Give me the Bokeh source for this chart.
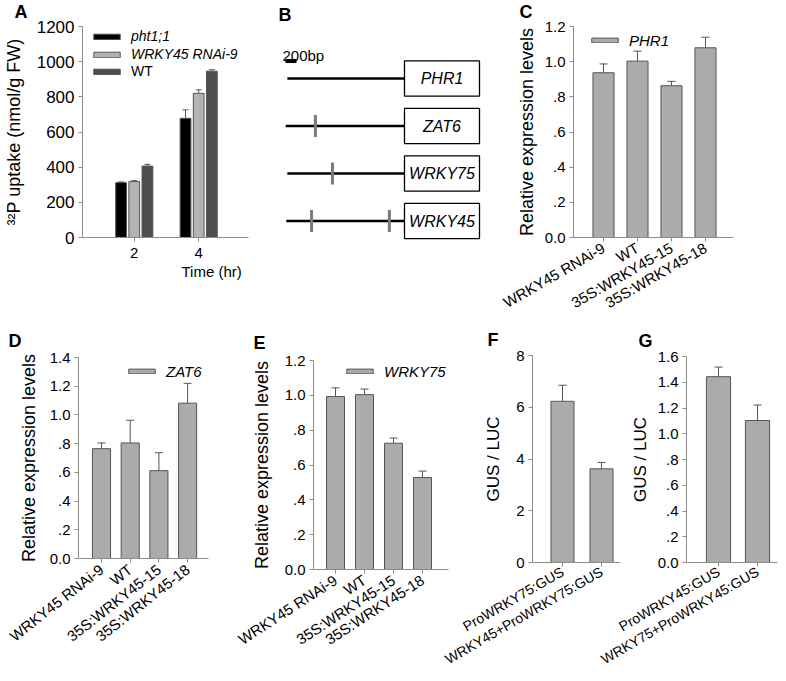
import math
from bokeh.plotting import figure
from bokeh.models import (Range1d, FixedTicker, Whisker, TeeHead, ColumnDataSource,
                          Label, Legend, LegendItem, Title)
from bokeh.layouts import row, column
from bokeh.embed import file_html
from bokeh.resources import INLINE
from bokeh.core.properties import value

FONT = "Liberation Sans"
AXIS_COLOR = "#8c8c8c"
BAR_FILL = "#ababab"
BAR_LINE = "#555555"
ERR_COLOR = "#555555"

# ---------------- data ----------------
# A: 32P uptake
a_times = ["2", "4"]
a_pht = [312, 678]
a_pht_err = [4, 48]
a_rnai = [318, 820]
a_rnai_err = [5, 20]
a_wt = [406, 946]
a_wt_err = [10, 8]
a_yticks = [0, 200, 400, 600, 800, 1000, 1200]
a_yticklabels = ["0", "200", "400", "600", "800", "1000", "1200"]

# B: promoter schematic (bp)
b_genes = ["PHR1", "ZAT6", "WRKY75", "WRKY45"]
b_promoter_bp = [2130, 2160, 2130, 2150]
b_motif_gene = [1, 2, 3, 3]
b_motif_bp = [1620, 1310, 1690, 275]
b_scale_bp = 200

# C/D/E: relative expression
genotypes = ["WRKY45 RNAi-9", "WT", "35S:WRKY45-15", "35S:WRKY45-18"]
c_vals = [0.937, 1.003, 0.863, 1.079]
c_err = [0.050, 0.057, 0.025, 0.060]
d_vals = [0.765, 0.805, 0.612, 1.082]
d_err = [0.040, 0.158, 0.125, 0.138]
e_vals = [0.993, 1.004, 0.725, 0.528]
e_err = [0.050, 0.032, 0.030, 0.037]

# F/G: GUS / LUC
f_constructs = ["ProWRKY75:GUS", "WRKY45+ProWRKY75:GUS"]
f_vals = [6.23, 3.62]
f_err = [0.62, 0.25]
g_constructs = ["ProWRKY45:GUS", "WRKY75+ProWRKY45:GUS"]
g_vals = [1.443, 1.103]
g_err = [0.075, 0.120]

rel_yticks = [0, 0.2, 0.4, 0.6, 0.8, 1.0, 1.2, 1.4, 1.6]
rel_yticklabels = ["0.0", ".2", ".4", ".6", ".8", "1.0", "1.2", "1.4", "1.6"]
f_yticks = [0, 2, 4, 6, 8]
f_yticklabels = ["0", "2", "4", "6", "8"]

TOP_Y0 = -6      # top row canvases start slightly above the page (empty border only)
BOT_Y0 = 322     # bottom row canvases overlap the top row a little (transparent)
BOT_Y1 = 677


# ---------------- helpers ----------------
def make_panel(fig_box, frame_box, xr, yr, axes=True):
    L, T, R, B = fig_box
    fl, ft, fr, fb = frame_box
    kw = {}
    if not axes:
        kw = dict(x_axis_location=None, y_axis_location=None)
    p = figure(width=R - L, height=B - T,
               x_range=Range1d(*xr), y_range=Range1d(*yr),
               output_backend="svg", toolbar_location=None,
               min_border_left=fl - L, min_border_right=R - fr,
               min_border_top=ft - T, min_border_bottom=B - fb, **kw)
    p.outline_line_color = None
    p.background_fill_color = None
    p.border_fill_color = None
    p.xgrid.visible = False
    p.ygrid.visible = False

    def to_data(px, py):
        x = xr[0] + (px - fl) / (fr - fl) * (xr[1] - xr[0])
        y = yr[0] + (fb - py) / (fb - ft) * (yr[1] - yr[0])
        return x, y
    return p, to_data


def cat_range(fl, fr, c0, step):
    return ((fl - c0) / step, (fr - c0) / step)


def style_axes(p, xticks, xlabels, yticks, ylabels, ylabel, xfont, yfont,
               ylabel_size, ylabel_standoff, xangle=None, xstandoff=4):
    xa, ya = p.xaxis[0], p.yaxis[0]
    for ax in (xa, ya):
        ax.axis_line_color = AXIS_COLOR
        ax.major_tick_line_color = AXIS_COLOR
        ax.major_tick_out = 4
        ax.major_tick_in = 0
        ax.minor_tick_line_color = None
        ax.major_label_text_font = FONT
        ax.major_label_text_color = "#000000"
        ax.axis_label_text_font = FONT
        ax.axis_label_text_font_style = "normal"
        ax.axis_label_text_color = "#000000"
        ax.major_label_standoff = 4
    xa.ticker = FixedTicker(ticks=xticks)
    xa.major_label_overrides = dict(zip(xticks, xlabels))
    xa.major_label_text_font_size = xfont
    xa.major_label_standoff = xstandoff
    if xangle is not None:
        xa.major_label_orientation = math.radians(xangle)
    ya.ticker = FixedTicker(ticks=yticks)
    ya.major_label_overrides = dict(zip(yticks, ylabels))
    ya.major_label_text_font_size = yfont
    ya.axis_label = ylabel
    ya.axis_label_text_font_size = ylabel_size
    ya.axis_label_standoff = ylabel_standoff


def add_bars(p, vals, errs, width, color=BAR_FILL, offset=0.0, head=8):
    xs = [i + offset for i in range(len(vals))]
    src = ColumnDataSource(dict(x=xs, top=vals, upper=[v + e for v, e in zip(vals, errs)]))
    p.add_layout(Whisker(source=src, base="x", upper="upper", lower="top",
                         dimension="height", line_color=ERR_COLOR, line_width=1,
                         upper_head=TeeHead(size=head, line_color=ERR_COLOR, line_width=1),
                         lower_head=None))
    r = p.vbar(x="x", top="top", bottom=0, width=width, source=src,
               fill_color=color, line_color=BAR_LINE, line_width=1)
    return r


def add_legend(p, items, loc, italic=True, gw=33, gh=6, size="15px"):
    leg = Legend(items=[LegendItem(label=t, renderers=[r]) for t, r in items],
                 location=loc, orientation="vertical", padding=0, margin=0, spacing=0,
                 glyph_width=gw, glyph_height=gh, label_height=18, label_standoff=8,
                 label_text_font=FONT, label_text_font_size=size,
                 label_text_font_style="italic" if italic else "normal",
                 label_text_color="#000000",
                 border_line_color=None, background_fill_alpha=0)
    p.add_layout(leg)


def letter(p, txt, offset, standoff):
    p.add_layout(Title(text=txt, align="left", offset=offset, standoff=standoff,
                       text_font=FONT, text_font_style="bold", text_font_size="18px",
                       text_color="#000000"), "above")


# ---------------- panel A ----------------
A_FRAME = (78, 26, 248, 237)
pa, ta = make_panel((0, TOP_Y0, 278, 330), A_FRAME, cat_range(78, 248, 131, 66), (0, 1200))
style_axes(pa, [0, 1], a_times, a_yticks, a_yticklabels, "³²P uptake (nmol/g FW)",
           "15px", "17px", "18px", 10, xstandoff=6)
r1 = add_bars(pa, a_pht, a_pht_err, 0.167, color="#000000", offset=-0.2045, head=6)
r2 = add_bars(pa, a_rnai, a_rnai_err, 0.167, color="#b3b3b3", offset=0.0, head=6)
r3 = add_bars(pa, a_wt, a_wt_err, 0.167, color="#4d4d4d", offset=0.2045, head=6)
add_legend(pa, [("pht1;1", r1), ("WRKY45 RNAi-9", r2)], (8, 174), italic=True, gh=7, size="14px")
add_legend(pa, [("WT", r3)], (8, 157), italic=False, gh=7, size="14px")
letter(pa, "A", 10 - 78, 9)
pa.add_layout(Title(text="Time (hr)", align="left", offset=177 - 78, standoff=0,
                    text_font=FONT, text_font_style="normal", text_font_size="15px",
                    text_color="#000000"), "below")

# ---------------- panel B ----------------
BP_PER_PX = 200 / 11.0
ROW_PX = 47.5
BOX_W = 75 * BP_PER_PX
bL, bR = 278, 498
pb, tb = make_panel((bL, TOP_Y0, bR, 330), (bL, TOP_Y0, bR, 330),
                    ((bL - 404) * BP_PER_PX, (bR - 404) * BP_PER_PX),
                    ((330 - 78) / ROW_PX, (TOP_Y0 - 78) / ROW_PX), axes=False)
rows = list(range(len(b_genes)))
pb.segment(x0=[-v for v in b_promoter_bp], x1=[0] * len(rows), y0=rows, y1=rows,
           line_color="#000000", line_width=2.6)
pb.segment(x0=[-v for v in b_motif_bp], x1=[-v for v in b_motif_bp],
           y0=[g - 0.23 for g in b_motif_gene], y1=[g + 0.23 for g in b_motif_gene],
           line_color="#7a7a7a", line_width=3)
pb.quad(left=[0] * len(rows), right=[BOX_W] * len(rows),
        top=[r - 0.37 for r in rows], bottom=[r + 0.37 for r in rows],
        fill_color="white", line_color="#000000", line_width=1.3)
pb.text(x=[BOX_W / 2] * len(rows), y=rows, text=b_genes, text_font=value(FONT),
        text_font_style="italic", text_font_size="16px", text_align="center",
        text_baseline="middle", text_color="#000000")
sx0, sy_top = tb(285, 58.5)
_, sy_bot = tb(285, 62.5)
pb.quad(left=[sx0], right=[sx0 + b_scale_bp], top=[sy_top], bottom=[sy_bot],
        fill_color="#000000", line_color=None)
lx, ly = tb(282, 55)
pb.add_layout(Label(x=lx, y=ly, text="200bp", text_font=FONT, text_font_size="15px",
                    text_align="left", text_baseline="alphabetic", text_color="#000000"))
bx, by = tb(278, 4)
pb.add_layout(Label(x=bx, y=by, text="B", text_font=FONT, text_font_style="bold",
                    text_font_size="18px", text_align="left", text_baseline="top",
                    text_color="#000000"))

# ---------------- panel C ----------------
pc, tcc = make_panel((498, TOP_Y0, 784, 330), (573, 26, 733, 237),
                     cat_range(573, 733, 603, 34), (0, 1.2))
style_axes(pc, [0, 1, 2, 3], genotypes, rel_yticks[:7], rel_yticklabels[:7],
           "Relative expression levels", "15px", "15px", "18px", 5, xangle=30, xstandoff=5)
rc = add_bars(pc, c_vals, c_err, 0.62)
add_legend(pc, [("PHR1", rc)], (15, 188))
letter(pc, "C", 519 - 573, 10)

# ---------------- panel D ----------------
pd_, td = make_panel((0, BOT_Y0, 230, BOT_Y1), (78, 357, 208, 558),
                     cat_range(78, 208, 101, 28.7), (0, 1.4))
style_axes(pd_, [0, 1, 2, 3], genotypes, rel_yticks[:8], rel_yticklabels[:8],
           "Relative expression levels", "15px", "15px", "18px", 8, xangle=38, xstandoff=5)
rd = add_bars(pd_, d_vals, d_err, 0.63)
add_legend(pd_, [("ZAT6", rd)], (47, 178))
letter(pd_, "D", 8 - 78, 13)

# ---------------- panel E ----------------
pe, te = make_panel((230, BOT_Y0, 485, BOT_Y1), (313, 360, 448, 569),
                    cat_range(313, 448, 335, 29), (0, 1.2))
style_axes(pe, [0, 1, 2, 3], genotypes, rel_yticks[:7], rel_yticklabels[:7],
           "Relative expression levels", "15px", "15px", "18px", 10, xangle=33, xstandoff=5)
re_ = add_bars(pe, e_vals, e_err, 0.62)
add_legend(pe, [("WRKY75", re_)], (30, 189))
letter(pe, "E", 253 - 313, 16)

# ---------------- panel F ----------------
pf, tf = make_panel((425, BOT_Y0, 637, BOT_Y1), (532, 355, 620, 568),
                    cat_range(532, 620, 562, 39), (0, 8))
style_axes(pf, [0, 1], f_constructs, f_yticks, f_yticklabels, "GUS / LUC",
           "14px", "15px", "17px", 10, xangle=30)
add_bars(pf, f_vals, f_err, 0.59)
letter(pf, "F", 487 - 532, 11)

# ---------------- panel G ----------------
pg, tg = make_panel((585, BOT_Y0, 784, BOT_Y1), (686, 356, 777, 568),
                    cat_range(686, 777, 718, 39), (0, 1.6))
style_axes(pg, [0, 1], g_constructs, rel_yticks, rel_yticklabels, "GUS / LUC",
           "14px", "15px", "17px", 5, xangle=30)
add_bars(pg, g_vals, g_err, 0.62)
letter(pg, "G", 638 - 686, 12)

wd = column(pd_)
we = column(pe)
wf = column(pf, margin=(0, 0, 0, -60))
wg = column(pg, margin=(0, 0, 0, -52))
wa = column(pa)
wb = column(pb)
wc = column(pc)

top_row = row(wa, wb, wc, margin=(TOP_Y0, 0, 0, 0))
bottom_row = row(wd, we, wf, wg, margin=(BOT_Y0 - 330, 0, 0, 0))
layout = column(top_row, bottom_row)
open("out.html", "w").write(file_html(layout, INLINE, title="WRKY45 figure"))
